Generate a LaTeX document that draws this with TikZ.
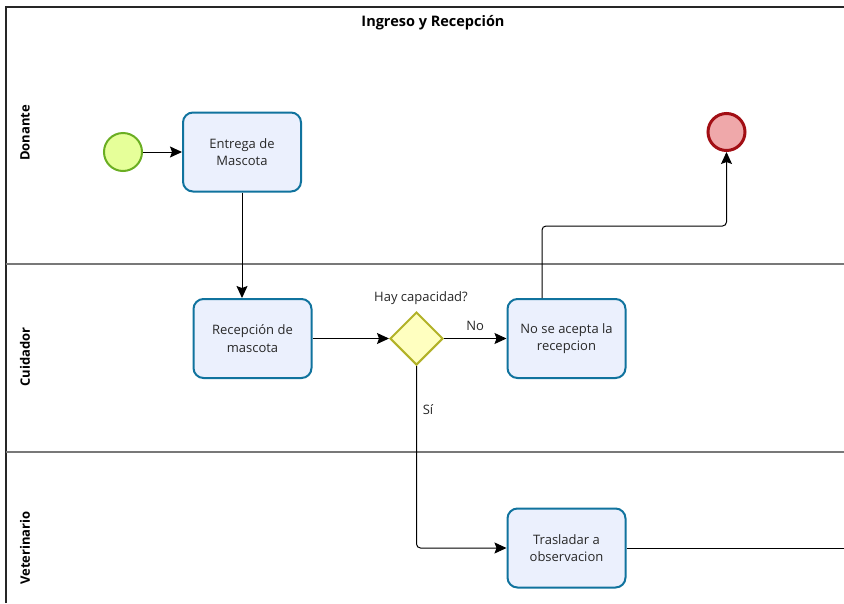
\documentclass[tikz,border=0pt]{standalone}
\usepackage{fontspec}
\setmainfont{Open Sans}
\usetikzlibrary{shapes.geometric,arrows.meta,calc}
\definecolor{taskfill}{RGB}{235,240,253}
\definecolor{taskdraw}{RGB}{16,115,158}
\definecolor{gwfill}{RGB}{255,255,192}
\definecolor{gwdraw}{RGB}{178,178,40}
\definecolor{stfill}{RGB}{230,255,153}
\definecolor{stdraw}{RGB}{106,174,34}
\definecolor{endfill}{RGB}{239,168,170}
\definecolor{enddraw}{RGB}{162,14,20}
\definecolor{txt}{RGB}{40,40,40}
\definecolor{lanegray}{RGB}{120,120,120}
\tikzset{
  taskbox/.style={draw=taskdraw, fill=taskfill, line width=2pt, rounded corners=10pt,
    minimum width=118pt, minimum height=79pt, align=center, text=txt,
    font=\fontsize{13}{17.5}\selectfont, inner sep=2pt},
  gwbox/.style={diamond, draw=gwdraw, fill=gwfill, line width=2pt, minimum width=53pt,
    minimum height=53pt, inner sep=0pt},
  startev/.style={circle, draw=stdraw, fill=stfill, line width=2pt, minimum size=38pt, inner sep=0pt},
  endev/.style={circle, draw=enddraw, fill=endfill, line width=3pt, minimum size=37pt, inner sep=0pt},
  flow/.style={draw=black, line width=1pt, rounded corners=4pt,
    -{Stealth[length=12pt,width=11pt,inset=2pt]}},
  plainflow/.style={draw=black, line width=1pt},
  lbl/.style={text=txt, font=\fontsize{13}{15}\selectfont},
  lanelbl/.style={rotate=90, text=black, font=\bfseries\fontsize{13}{15}\selectfont},
  ttl/.style={text=black, font=\bfseries\fontsize{14.5}{16}\selectfont},
}
\begin{document}
\begin{tikzpicture}[x=1pt,y=-1pt]
\useasboundingbox (0,0) rectangle (844,603);
\fill[white] (0,0) rectangle (844,603);
% pool frame
\draw[line width=1.6pt, black!85] (6,603) -- (6,7) -- (844,7);
\draw[line width=1.5pt, lanegray] (6,264) -- (844,264);
\draw[line width=1.5pt, lanegray] (6,452) -- (844,452);
% title and lanes
\node[ttl] (title) at (433,23) {Ingreso y Recepción};
\node[lanelbl] (l1) at (25,133) {Donante};
\node[lanelbl] (l2) at (25,357) {Cuidador};
\node[lanelbl] (l3) at (25,548) {Veterinario};
% nodes
\node[startev] (start) at (123,152) {};
\node[taskbox] (entrega) at (242,152) {Entrega de\\Mascota};
\node[taskbox] (recep) at (252.5,338.5) {Recepción de\\mascota};
\node[gwbox] (gw) at (416.5,338.5) {};
\node[lbl] (hay) at (421,298) {Hay capacidad?};
\node[taskbox] (noacepta) at (566.5,338.5) {No se acepta la\\recepcion};
\node[endev] (end) at (726.5,132) {};
\node[taskbox] (trasladar) at (566.5,548) {Trasladar a\\observacion};
\coordinate (bend) at (542,226);
\coordinate (outR) at (844,548);
% connectors
\draw[flow] (start) -- (entrega);
\draw[flow] (entrega.south) -- (entrega.south |- recep.north);
\draw[flow] (recep) -- (gw);
\draw[flow] (gw) -- node[lbl, above, yshift=4pt] {No} (noacepta);
\draw[flow] (bend |- noacepta.north) -- (bend) -| (end.south);
\draw[flow] (gw.south) |- (trasladar.west);
\node[lbl] (si) at (428,410) {Sí};
\draw[plainflow] (trasladar.east) -- (outR);
\end{tikzpicture}
\end{document}
